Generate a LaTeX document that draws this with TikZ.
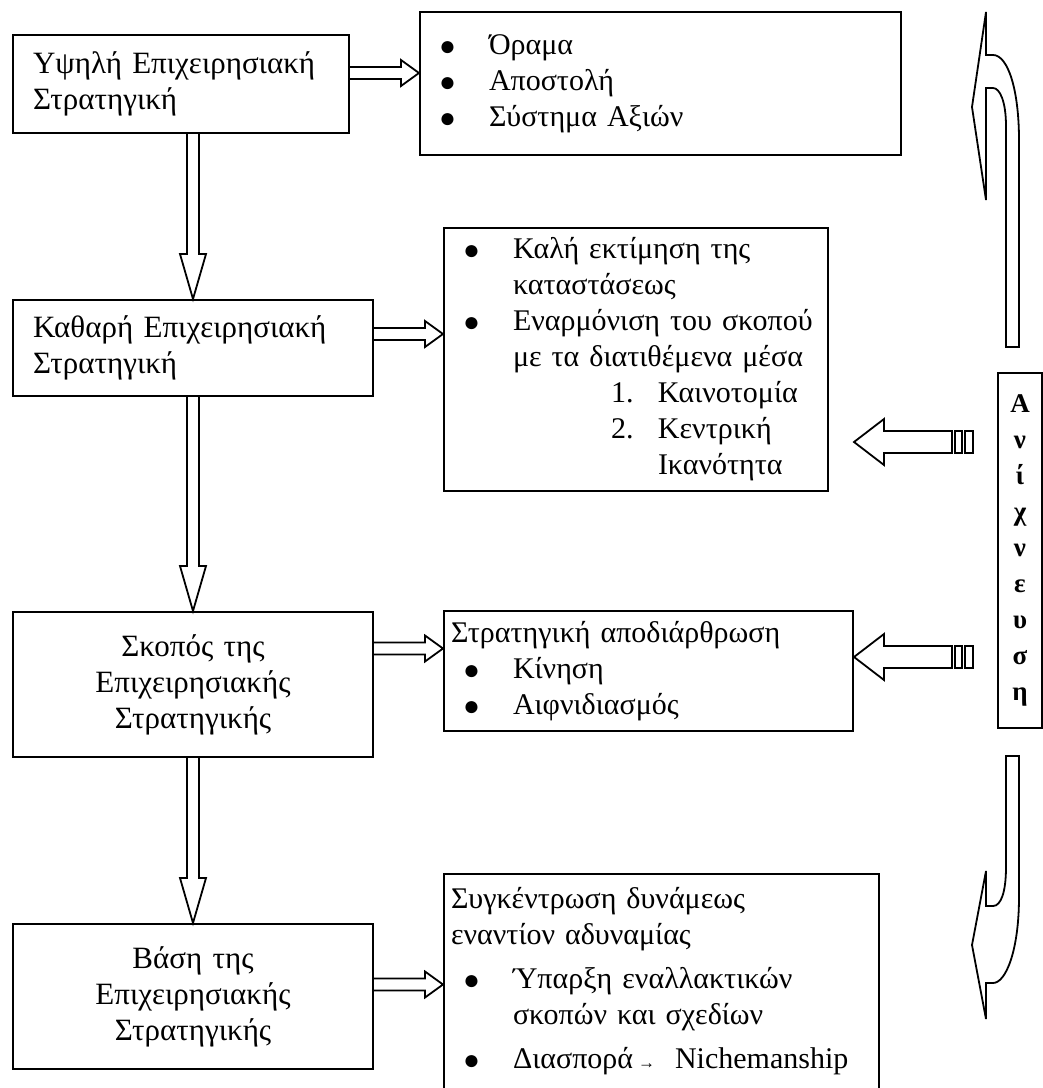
\documentclass[tikz,border=0pt]{standalone}
\usepackage{fontspec}
\setmainfont{Liberation Serif}
\usepackage{tikz}
\usetikzlibrary{calc}

\tikzstyle{stratbox} = [
    draw,
    line width=2pt,
    rectangle,
    anchor=north west,
    inner xsep=20pt,
    inner ysep=0pt,
    font=\fontsize{31}{36}\selectfont
    ]
\tikzstyle{listbox} = [
    draw,
    line width=2pt,
    rectangle,
    anchor=north west,
    inner xsep=7pt,
    inner ysep=0pt,
    align=left,
    font=\fontsize{30}{36}\selectfont
    ]
\tikzstyle{scanbox} = [
    draw,
    line width=2pt,
    rectangle,
    anchor=north west,
    inner sep=0pt,
    align=center,
    font=\fontsize{27}{36}\selectfont\bfseries
    ]
\tikzstyle{hollow} = [
    draw,
    line width=1.8pt,
    fill=white,
    line join=miter
    ]

\newcommand{\bul}{% bullet item
\makebox[62pt][l]{\hspace{12pt}\raisebox{-1pt}{\fontsize{28}{36}\selectfont ●}}}
\newcommand{\ind}[1]{% indent
\hspace*{#1pt}}
\newcommand{\num}[1]{% numbered item
\hspace*{160pt}\makebox[47pt][l]{#1}}

\newcommand{\rightarr}[2]{% hollow arrow to the right
\draw[hollow] let \p1=(#1), \p2=(#2) in
    (\x1,\y1+6pt) -- (\x2-18pt,\y1+6pt) -- (\x2-18pt,\y1+13pt) -- (\x2,\y1)
    -- (\x2-18pt,\y1-13pt) -- (\x2-18pt,\y1-6pt) -- (\x1,\y1-6pt);}
\newcommand{\downarr}[2]{% hollow arrow downwards
\draw[hollow] let \p1=(#1), \p2=(#2) in
    (\x2-6pt,\y1) -- (\x2-6pt,\y2+45pt) -- (\x2-13pt,\y2+45pt) -- (\x2,\y2)
    -- (\x2+13pt,\y2+45pt) -- (\x2+6pt,\y2+45pt) -- (\x2+6pt,\y1);}
\newcommand{\stripearr}[2]{% striped arrow to the left
\draw[hollow] let \p1=(#1), \p2=(#2) in
    (\x1-21pt,\y1+11pt) -- (\x2+30pt,\y1+11pt) -- (\x2+30pt,\y1+23pt) -- (\x2,\y1)
    -- (\x2+30pt,\y1-23pt) -- (\x2+30pt,\y1-11pt) -- (\x1-21pt,\y1-11pt) -- cycle
    (\x1-18pt,\y1+11pt) rectangle (\x1-11pt,\y1-11pt)
    (\x1-8pt,\y1+11pt) rectangle (\x1,\y1-11pt);}

\begin{document}
\begin{tikzpicture}[x=1pt,y=-1pt]
\useasboundingbox[fill=white] (0,0) rectangle (1043,1088);

% left column
\node[stratbox, text width=296pt, minimum height=98pt, align=left] (high) at (12,34)
    {Υψηλή Επιχειρησιακή\\Στρατηγική};
\node[stratbox, text width=320pt, minimum height=96pt, align=left] (pure) at (12,299)
    {Καθαρή Επιχειρησιακή\\Στρατηγική};
\node[stratbox, text width=320pt, minimum height=145pt, align=center] (aim) at (12,611)
    {Σκοπός της\\Επιχειρησιακής\\Στρατηγικής};
\node[stratbox, text width=320pt, minimum height=145pt, align=center] (base) at (12,923)
    {Βάση της\\Επιχειρησιακής\\Στρατηγικής};

% right column
\node[listbox, text width=467pt, minimum height=143pt] (vision) at (419,11)
    {\bul Όραμα\\\bul Αποστολή\\\bul Σύστημα Αξιών};
\node[listbox, text width=370pt, minimum height=263pt] (assess) at (443,227)
    {\bul Καλή εκτίμηση της\\
     \ind{62}καταστάσεως\\
     \bul Εναρμόνιση του σκοπού\\
     \ind{62}με τα διατιθέμενα μέσα\\
     \num{1.}Καινοτομία\\
     \num{2.}Κεντρική\\
     \ind{207}Ικανότητα};
\node[listbox, text width=395pt, minimum height=120pt] (disloc) at (443,610)
    {Στρατηγική αποδιάρθρωση\\\bul Κίνηση\\\bul Αιφνιδιασμός};
\node[listbox, text width=421pt, minimum height=225pt] (conc) at (443,873)
    {Συγκέντρωση δυνάμεως\\
     εναντίον αδυναμίας\\[8pt]
     \bul Ύπαρξη εναλλακτικών\\
     \ind{62}σκοπών και σχεδίων\\[8pt]
     \bul Διασπορά\,{\fontsize{17}{17}\selectfont →}\ \ Nichemanship\\[-18pt]
     \mbox{}};

\node[scanbox, minimum width=44pt, minimum height=355pt] (scan) at (997,372)
    {Α\\ν\\ί\\χ\\ν\\ε\\υ\\σ\\η};

% arrows
\downarr{high.south}{pure.north}
\downarr{pure.south}{aim.north}
\downarr{aim.south}{base.north}
\rightarr{$(high.east)+(0,-11)$}{vision.west}
\rightarr{$(pure.east)+(0,-14)$}{assess.west}
\rightarr{$(aim.east)+(0,-36)$}{disloc.west}
\rightarr{$(base.east)+(0,-12)$}{conc.west}

\coordinate (tail1) at (973,442);
\coordinate (tail2) at (973,657);
\stripearr{tail1}{disloc.east}
\stripearr{tail2}{disloc.east}

% curved arrows
\draw[hollow] (986,12) -- (986,55) -- (993,55)
    .. controls (1008,55) and (1019,90) .. (1019,140) -- (1019,347) -- (1006,347)
    -- (1006,126) .. controls (1006,102) and (1000,88) .. (993,88) -- (986,88)
    -- (986,200) -- (972,107) -- cycle;
\draw[hollow] (1006,756) -- (1019,756) -- (1019,897)
    .. controls (1019,950) and (1006,983) .. (993,983) -- (986,983)
    -- (986,1019) -- (972,945) -- (986,871) -- (986,906) -- (993,906)
    .. controls (1001,906) and (1006,892) .. (1006,867) -- cycle;
\end{tikzpicture}
\end{document}
